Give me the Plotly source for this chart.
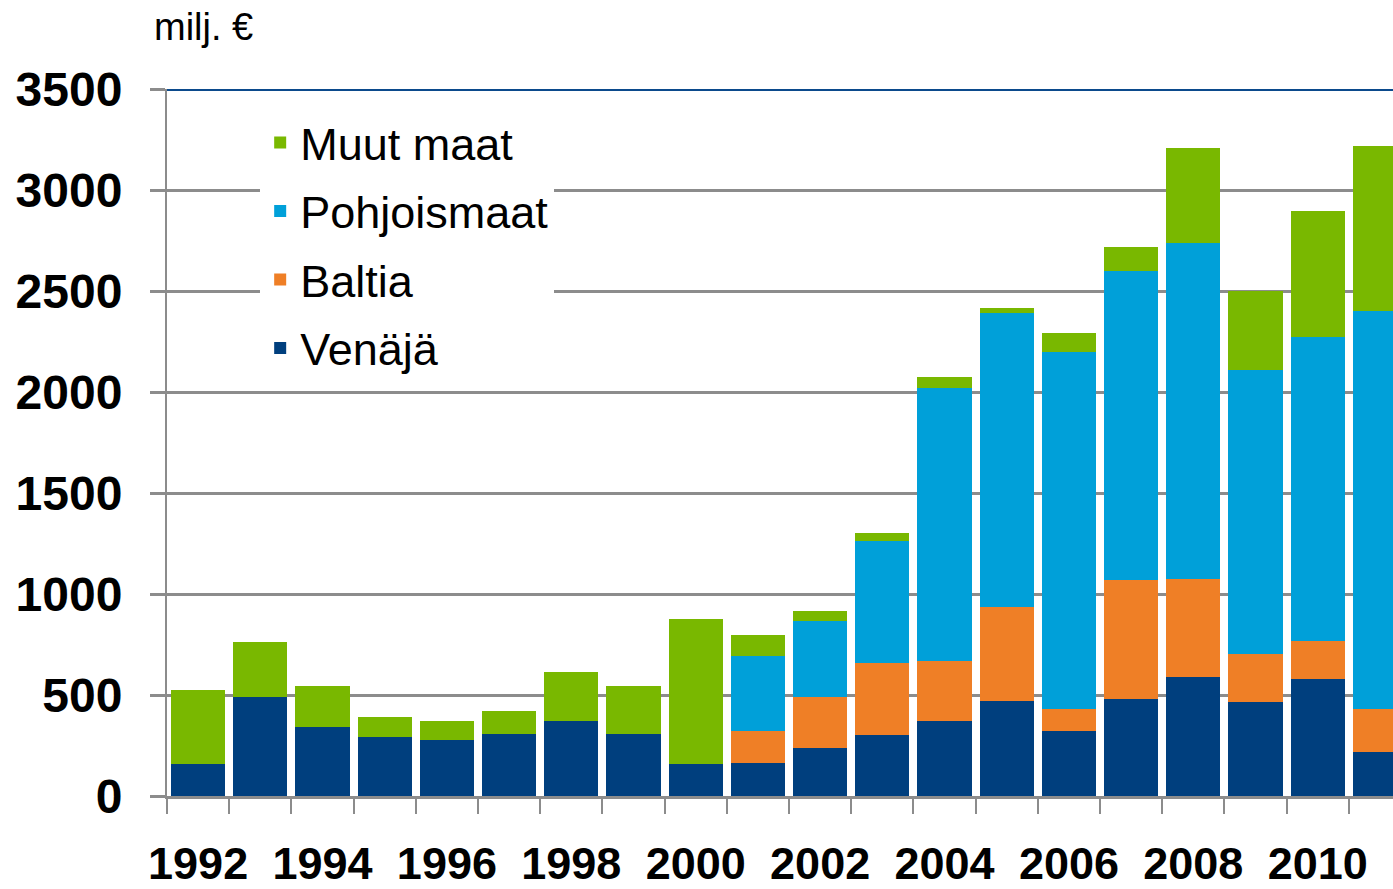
import plotly.graph_objects as go

years = list(range(1992, 2012))
venaja = [157, 492, 340, 290, 276, 309, 371, 309, 157, 162, 238, 302, 371, 472, 322, 480, 587, 467, 581, 219]
baltia = [None] * 9 + [158, 254, 355, 299, 462, 107, 589, 487, 234, 185, 210]
pohjoismaat = [None] * 9 + [375, 374, 607, 1348, 1459, 1767, 1532, 1665, 1406, 1506, 1970]
muut_maat = [368, 272, 203, 100, 94, 113, 241, 234, 721, 100, 48, 38, 58, 24, 96, 115, 470, 391, 622, 819]

series = [
    ("Venäjä", venaja, "#003f7e"),
    ("Baltia", baltia, "#ef7f26"),
    ("Pohjoismaat", pohjoismaat, "#00a0d9"),
    ("Muut maat", muut_maat, "#79b800"),
]

GRAY = "#8c8c8c"
FONT = "Liberation Sans"

fig = go.Figure()
for i, (name, vals, col) in enumerate(series):
    fig.add_trace(go.Bar(x=years, y=vals, name=name, marker_color=col,
                         marker_line_width=0, legendgroup=name, legendrank=100 - i))

fig.update_layout(
    barmode="stack",
    bargap=0.13,
    width=1393, height=889, autosize=False,
    margin=dict(l=167, r=0, t=89, b=93, autoexpand=False),
    plot_bgcolor="white", paper_bgcolor="white",
    font=dict(family=FONT, color="black"),
    legend=dict(
        x=0.076, y=0.975, xanchor="left", yanchor="top",
        bgcolor="white", borderwidth=0,
        traceorder="grouped", tracegroupgap=7,
        font=dict(size=45, family=FONT, color="black"),
    ),
    xaxis=dict(
        range=[years[0] - 0.5, years[0] - 0.5 + 19.71],
        tickmode="array", tickvals=years[::2], ticktext=[str(y) for y in years[::2]],
        ticks="", showgrid=False, zeroline=False, automargin=False,
        showline=True, linecolor=GRAY, linewidth=3,
        tickfont=dict(size=45, family=FONT, weight="bold"),
        ticklabelstandoff=26,
        minor=dict(tickmode="array", tickvals=[y - 0.5 for y in years],
                   ticks="outside", ticklen=15, tickcolor=GRAY, tickwidth=2, showgrid=False),
    ),
    yaxis=dict(
        range=[0, 3500], tickmode="array", tickvals=list(range(0, 3501, 500)),
        showgrid=True, gridcolor=GRAY, gridwidth=3, zeroline=False, automargin=False,
        showline=True, linecolor=GRAY, linewidth=2,
        ticks="outside", ticklen=15, tickcolor=GRAY, tickwidth=3,
        tickfont=dict(size=48, family=FONT, weight="bold"),
        ticklabelstandoff=18,
    ),
    shapes=[dict(type="line", xref="paper", x0=0, x1=1, yref="y", y0=3500, y1=3500,
                 line=dict(color="#0b4a8c", width=4))],
    annotations=[dict(text="milj. €", xref="paper", yref="paper", x=-0.012, y=1.0,
                      yshift=62, xanchor="left", yanchor="middle", showarrow=False,
                      font=dict(size=38, family=FONT, color="black"))],
)

fig.write_html(
    "out.html",
    config={"displayModeBar": False},
    post_script="document.body.style.margin='0';document.body.style.overflow='hidden';",
)
